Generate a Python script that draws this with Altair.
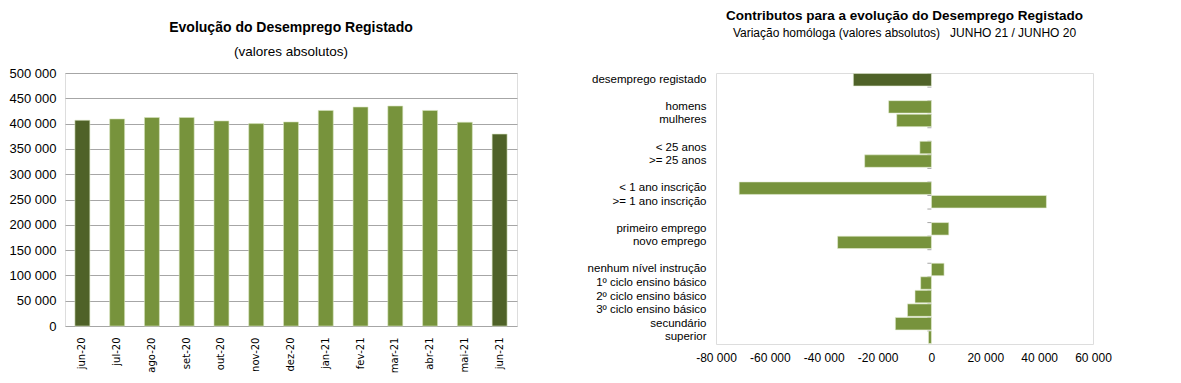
import altair as alt
import pandas as pd

# ---------------- data ----------------
months = ["jun-20", "jul-20", "ago-20", "set-20", "out-20", "nov-20", "dez-20",
          "jan-21", "fev-21", "mar-21", "abr-21", "mai-21", "jun-21"]
desemprego = [406600, 409300, 412000, 412000, 405300, 400000, 403300,
              426000, 432700, 434700, 426000, 402700, 379300]
month_tone = ["dark", "light", "light", "light", "light", "light", "light",
              "light", "light", "light", "light", "light", "dark"]

contrib_cats = ["desemprego registado", " ", "homens", "mulheres", "  ",
                "< 25 anos", ">= 25 anos", "   ", "< 1 ano inscrição",
                ">= 1 ano inscrição", "    ", "primeiro emprego", "novo emprego",
                "     ", "nenhum nível instrução", "1º ciclo ensino básico",
                "2º ciclo ensino básico", "3º ciclo ensino básico", "secundário",
                "superior"]
contrib_vals = [-29000, None, -15900, -12900, None,
                -4300, -24800, None, -71400,
                42700, None, 6450, -34850,
                None, 4700, -4000,
                -6100, -8900, -13400,
                -1100]
contrib_tone = ["dark"] + ["light"] * 19

DARK = "#4F6228"
LIGHT = "#77933C"
GRID = "#A6A6A6"
SANS = "Liberation Sans"

fmt_expr = "(datum.value < 0 ? '-' : '') + replace(format(abs(datum.value), ','), ',', ' ')"

title_style = dict(font=SANS, fontWeight="bold", color="#000",
                   anchor="middle", subtitleFont=SANS,
                   subtitleColor="#000", subtitleFontWeight="normal")

# ---------------- left chart ----------------
left_df = pd.DataFrame({"mes": months, "valor": desemprego, "tom": month_tone})

left = alt.Chart(left_df).mark_bar(stroke="#D7E4BD", strokeWidth=0.6).encode(
    x=alt.X("mes:N", sort=months,
            scale=alt.Scale(paddingInner=0.57, paddingOuter=0.285),
            axis=alt.Axis(title=None, labelAngle=-90, labelFont="DejaVu Sans",
                          labelFontSize=10, labelColor="#000", ticks=False,
                          domain=False, grid=False, labelPadding=11)),
    y=alt.Y("valor:Q", scale=alt.Scale(domain=[0, 500000], nice=False),
            axis=alt.Axis(title=None, values=list(range(0, 500001, 50000)),
                          labelExpr=fmt_expr, gridColor=GRID, gridOpacity=1,
                          labelOverlap=False,
                          ticks=False, domain=False, labelFont=SANS,
                          labelFontSize=13, labelColor="#000", labelPadding=9)),
    color=alt.Color("tom:N", scale=alt.Scale(domain=["dark", "light"], range=[DARK, LIGHT]),
                    legend=None),
).properties(
    width=452, height=253,
    title=alt.TitleParams("Evolução do Desemprego Registado",
                          subtitle=["(valores absolutos)"], offset=9,
                          subtitlePadding=10, fontSize=14, subtitleFontSize=13.5,
                          **title_style),
)

# ---------------- right chart ----------------
right_df = pd.DataFrame({"cat": contrib_cats, "valor": contrib_vals, "tom": contrib_tone}).dropna()
tick_df = pd.DataFrame({"cat": contrib_cats})

y_scale = alt.Scale(domain=contrib_cats, paddingInner=0.08, paddingOuter=0.04)
x_scale = alt.Scale(domain=[-80000, 60000], nice=False)

bars = alt.Chart(right_df).mark_bar(stroke="#E6EED5", strokeWidth=0.6).encode(
    y=alt.Y("cat:N", sort=None, scale=y_scale,
            axis=alt.Axis(title=None, ticks=False, domain=False, grid=False,
                          labelOverlap=False,
                          labelFont=SANS, labelFontSize=11.5,
                          labelColor="#000", labelPadding=10)),
    x=alt.X("valor:Q", scale=x_scale,
            axis=alt.Axis(title=None, values=list(range(-80000, 60001, 20000)),
                          labelExpr=fmt_expr, gridColor=GRID, gridOpacity=1,
                          labelOverlap=False, labelFlush=False,
                          ticks=False, domain=False, labelFont=SANS,
                          labelFontSize=12, labelColor="#000", labelPadding=8)),
    color=alt.Color("tom:N", scale=alt.Scale(domain=["dark", "light"], range=[DARK, LIGHT]),
                    legend=None),
)

zero_ticks = alt.Chart(tick_df).mark_rule(color=GRID, strokeWidth=1).encode(
    y=alt.Y("cat:N", sort=None, scale=y_scale, bandPosition=0),
    x=alt.datum(0),
    x2=alt.datum(-1500),
)

right = alt.layer(zero_ticks, bars).properties(
    width=377, height=271,
    title=alt.TitleParams("Contributos para a evolução do Desemprego Registado",
                          subtitle=["Variação homóloga (valores absolutos)\u00a0\u00a0\u00a0JUNHO 21 / JUNHO 20"],
                          offset=34, subtitlePadding=6, fontSize=13.5, subtitleFontSize=12,
                          **title_style),
)

chart = alt.hconcat(left, right, spacing=68).properties(
    padding={"left": 0, "top": 0, "right": 5, "bottom": 5}
).configure_view(
    stroke=GRID, strokeWidth=1
).configure(background="white")

chart.save("out.html", embed_options={"renderer": "svg", "actions": False})
